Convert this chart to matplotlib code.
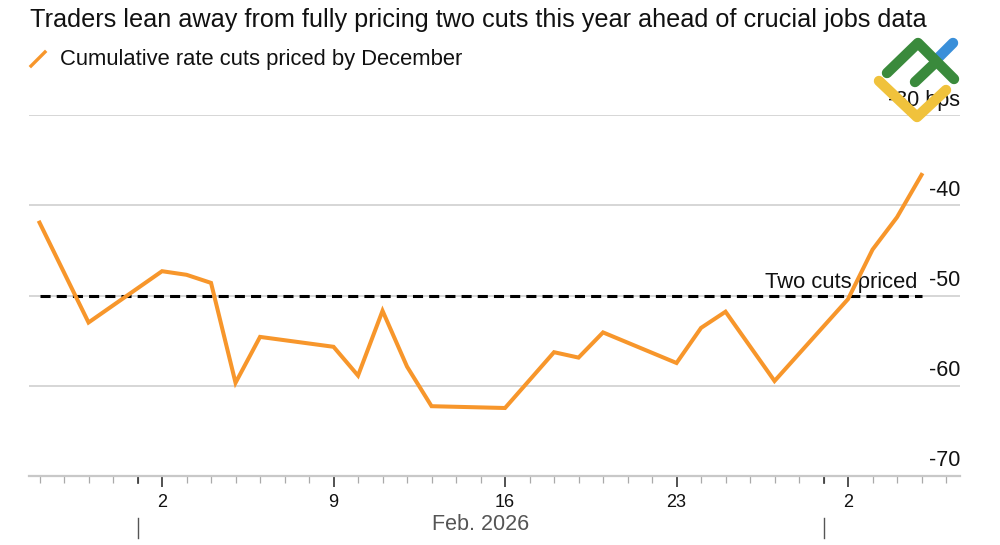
import matplotlib
matplotlib.use("Agg")
import matplotlib.pyplot as plt
import matplotlib.dates as mdates
import matplotlib.transforms as mtrans
from matplotlib.lines import Line2D
import datetime as dt

plt.rcParams['font.family'] = ['Liberation Sans', 'DejaVu Sans']

title = "Traders lean away from fully pricing two cuts this year ahead of crucial jobs data"
series_label = "Cumulative rate cuts priced by December"
dates = ["2026-01-28", "2026-01-30", "2026-02-02", "2026-02-03", "2026-02-04", "2026-02-05",
         "2026-02-06", "2026-02-09", "2026-02-10", "2026-02-11", "2026-02-12", "2026-02-13",
         "2026-02-16", "2026-02-18", "2026-02-19", "2026-02-20", "2026-02-23", "2026-02-24",
         "2026-02-25", "2026-02-27", "2026-03-02", "2026-03-03", "2026-03-04", "2026-03-05"]
values = [-41.9, -53.0, -47.3, -47.7, -48.6, -59.7,
          -54.6, -55.7, -58.9, -51.7, -57.9, -62.3,
          -62.5, -56.3, -56.9, -54.1, -57.5, -53.6,
          -51.8, -59.5, -50.4, -44.9, -41.3, -36.6]
reference_level = -50
reference_label = "Two cuts priced"
y_ticks = [-30, -40, -50, -60, -70]
y_tick_labels = ["-30 bps", "-40", "-50", "-60", "-70"]
month_label = "Feb. 2026"

x = [dt.datetime.strptime(d, "%Y-%m-%d") for d in dates]

W, H = 1000, 545
fig = plt.figure(figsize=(W / 100, H / 100), dpi=100)
left, right = 29 / W, 960 / W
top_px, bot_px = 115.5, 475.5
ax = fig.add_axes([left, 1 - bot_px / H, right - left, (bot_px - top_px) / H])

orange = "#f7962b"
grid_c = "#cccccc"

ax.set_ylim(-70, -30)
x0 = dt.datetime(2026, 2, 2) - dt.timedelta(days=5.43)
x1 = dt.datetime(2026, 3, 2) + dt.timedelta(days=4.57)
ax.set_xlim(x0, x1)

for v in y_ticks[:-1]:
    ax.axhline(v, color=grid_c, lw=1.1, zorder=1)
for s in ['top', 'right', 'left']:
    ax.spines[s].set_visible(False)
ax.spines['bottom'].set_color("#c8c8c8")
ax.spines['bottom'].set_linewidth(1.6)
ax.set_yticks([])

# reference line
ax.plot([x[0], x[-1]], [reference_level, reference_level], color="black", lw=2.2,
        linestyle=(0, (3.3, 2.0)), zorder=2)
ax.text(x[-1] - dt.timedelta(days=0.15), reference_level + 0.3, reference_label,
        ha='right', va='bottom', fontsize=15.8, color="#111111", zorder=3)

ax.plot(x, values, color=orange, lw=2.9, solid_joinstyle='miter', zorder=4)

# y labels on the right, above grid lines
tr = mtrans.blended_transform_factory(ax.transAxes, ax.transData)
for v, lab in zip(y_ticks, y_tick_labels):
    ax.text(1.0, v + 1.65, lab, transform=tr, ha='right', va='center',
            fontsize=15.5, color="#111111")

# x ticks
ax.xaxis.set_major_locator(mdates.DayLocator(bymonthday=[2, 9, 16, 23]))
ax.xaxis.set_major_formatter(mdates.DateFormatter('%-d'))
ax.xaxis.set_minor_locator(mdates.DayLocator())
ax.tick_params(axis='x', which='major', length=8, width=1.2, color="#333333",
               labelsize=13, pad=5.5, labelcolor="#111111")
ax.tick_params(axis='x', which='minor', length=5, width=0.9, color="#aaaaaa")

# month boundary ticks
trx = mtrans.blended_transform_factory(ax.transData, ax.transAxes)
for md in [dt.datetime(2026, 2, 1), dt.datetime(2026, 3, 1)]:
    xn = mdates.date2num(md)
    ax.add_line(Line2D([xn] * 2, [0, -7 / 360], transform=trx, color="#333333",
                       lw=1.2, clip_on=False))
    ax.add_line(Line2D([xn] * 2, [(475.5 - 518) / 360, (475.5 - 538) / 360],
                       transform=trx, color="#555555", lw=1.0, clip_on=False))
ax.text(mdates.date2num(dt.datetime(2026, 2, 15)), (475.5 - 525) / 360, month_label,
        transform=trx, ha='center', va='center', fontsize=15.5, color="#555555")

# title & legend
fig.text(30 / W, 1 - 20 / H, title, ha='left', va='center', fontsize=18.2, color="#111111")
fig.add_artist(Line2D([31 / W, 45 / W], [1 - 66 / H, 1 - 52 / H], color=orange, lw=2.4,
                      transform=fig.transFigure))
fig.text(60 / W, 1 - 60 / H, series_label, ha='left', va='center', fontsize=15.8, color="#111111")

# watermark logo
def seg(pts, color):
    fig.add_artist(Line2D([p[0] / W for p in pts], [1 - p[1] / H for p in pts], color=color,
                          lw=7.5, solid_capstyle='round', solid_joinstyle='round',
                          transform=fig.transFigure, zorder=10))
seg([(938, 58), (953, 43)], "#3a8fd9")
seg([(887, 73), (918, 43), (954, 79)], "#3a8a3c")
seg([(915, 82), (935, 63)], "#3a8a3c")
seg([(879, 81), (917, 117), (946, 90)], "#f0c23c")

fig.savefig("out.png", dpi=100)
